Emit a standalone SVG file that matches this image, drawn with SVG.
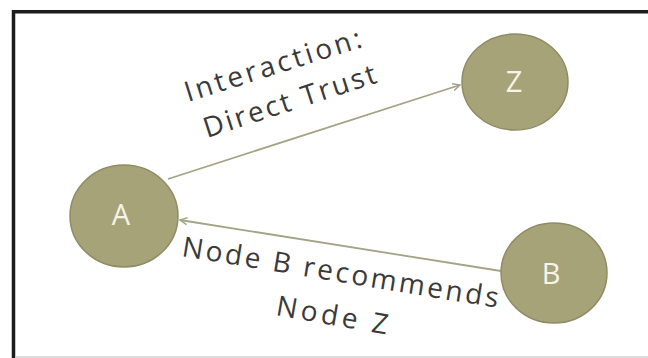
<svg xmlns="http://www.w3.org/2000/svg" width="648" height="358" viewBox="0 0 648 358">
  <defs>
    <style>
      .node { fill: #a7a379; stroke: #8f8b66; stroke-width: 1.5; }
      .nlabel { font-family: "Open Sans", "Liberation Sans", sans-serif; font-size: 29px; fill: #f6f4e8; text-anchor: middle; }
      .elabel { font-family: "Open Sans", "Liberation Sans", sans-serif; font-size: 28px; fill: #3a3a3a; }
      .edge { stroke: #a3a386; stroke-width: 1.8; fill: none; }
    </style>
    <marker id="arrow" viewBox="0 0 10 10" refX="9" refY="5" markerWidth="9" markerHeight="9" markerUnits="userSpaceOnUse" orient="auto">
      <path d="M1,1 L9,5 L1,9" fill="none" stroke="#a3a386" stroke-width="1.6"/>
    </marker>
  </defs>
  <rect x="0" y="0" width="648" height="358" fill="#ffffff"/>
  <path d="M13.5,360 V11.8 H650" fill="none" stroke="#1c1c1c" stroke-width="3.5"/>
  <line x1="15" y1="357" x2="648" y2="357" stroke="#d0d0d0" stroke-width="1.5"/>

  <g id="connectors">
    <line class="edge" x1="168" y1="179" x2="460" y2="85" marker-end="url(#arrow)"/>
    <line class="edge" x1="501" y1="271" x2="180" y2="220" marker-end="url(#arrow)"/>
    <text class="elabel" transform="translate(188,102) rotate(-17.5)" textLength="184" lengthAdjust="spacing">Interaction:</text>
    <text class="elabel" transform="translate(207,138) rotate(-18)" textLength="180" lengthAdjust="spacing">Direct Trust</text>
    <text class="elabel" transform="translate(181,256) rotate(9.3)" textLength="320" lengthAdjust="spacing">Node B recommends</text>
    <text class="elabel" transform="translate(275,315) rotate(10)" textLength="113" lengthAdjust="spacing">Node Z</text>
  </g>

  <g id="node-A">
    <ellipse class="node" cx="124" cy="216" rx="54" ry="51"/>
    <text class="nlabel" x="121" y="225">A</text>
  </g>
  <g id="node-Z">
    <ellipse class="node" cx="515" cy="82" rx="53" ry="48"/>
    <text class="nlabel" x="514" y="92">Z</text>
  </g>
  <g id="node-B">
    <ellipse class="node" cx="554" cy="273" rx="53" ry="50"/>
    <text class="nlabel" x="551" y="284">B</text>
  </g>
</svg>
